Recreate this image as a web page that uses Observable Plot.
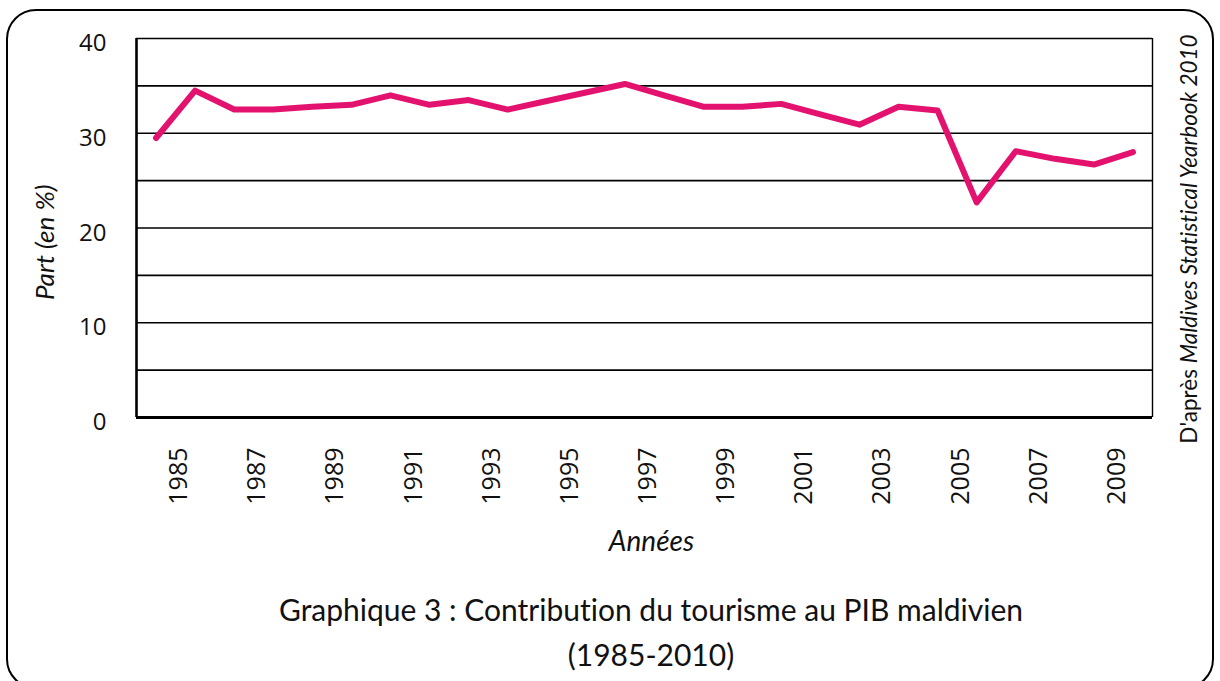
<!DOCTYPE html>
<html>
<head>
<meta charset="utf-8">
<script src="https://cdn.jsdelivr.net/npm/d3@7"></script>
<script src="https://cdn.jsdelivr.net/npm/@observablehq/plot@0.6"></script>
<style>
  html, body { margin: 0; padding: 0; background: #fff; }
  #wrap { position: relative; width: 1220px; height: 681px; overflow: hidden; background: #fff; }
  #border { position: absolute; left: 6px; top: 9px; width: 1208px; height: 680px;
            border: 2.5px solid #000; border-radius: 30px; box-sizing: border-box; }
  #chart { position: absolute; left: 0; top: 0; }
  #source { position: absolute; left: 1188px; top: 239px; transform: translate(-50%, -50%) rotate(-90deg);
            white-space: nowrap; font-family: Lato, "Open Sans", sans-serif; font-size: 22.5px; color: #111;
            font-variant-ligatures: none; }
  #title { position: absolute; left: 0; width: 1302px; top: 587px; text-align: center;
           font-family: Lato, "Open Sans", sans-serif; font-size: 30px; line-height: 45px; color: #111;
           font-variant-ligatures: none; }
</style>
</head>
<body>
<div id="wrap">
  <div id="border"></div>
  <div id="chart"></div>
  <div id="source">D'après <i>Maldives Statistical Yearbook 2010</i></div>
  <div id="title">Graphique 3 : Contribution du tourisme au PIB maldivien<br>(1985-2010)</div>
</div>
<script>
const years = [1985, 1986, 1987, 1988, 1989, 1990, 1991, 1992, 1993, 1994, 1995, 1996, 1997,
               1998, 1999, 2000, 2001, 2002, 2003, 2004, 2005, 2006, 2007, 2008, 2009, 2010];
const shares = [29.5, 34.5, 32.5, 32.5, 32.8, 33.0, 34.0, 33.0, 33.5, 32.5, 33.4, 34.3, 35.2,
                34.0, 32.8, 32.8, 33.1, 32.0, 30.9, 32.8, 32.4, 22.7, 28.1, 27.3, 26.7, 28.0];
const xTickYears = [1985, 1987, 1989, 1991, 1993, 1995, 1997, 1999, 2001, 2003, 2005, 2007, 2009];
const yTicks = [0, 10, 20, 30, 40];
const gridValues = [5, 10, 15, 20, 25, 30, 35, 40];
const yLabel = "Part (en %)";
const xLabel = "Années";

const data = years.map((year, i) => ({year, value: shares[i]}));

const tickFont = "'Open Sans', 'DejaVu Sans', sans-serif";
const labelFont = "Lato, 'Open Sans', sans-serif";

const chart = Plot.plot({
  width: 1220,
  height: 570,
  marginLeft: 136,
  marginRight: 68,
  marginTop: 38,
  marginBottom: 153,
  x: {type: "linear", domain: [years[0] - 0.5, years[years.length - 1] + 0.5], axis: null},
  y: {domain: [0, 40], axis: null},
  style: {background: "transparent", color: "#111"},
  marks: [
    Plot.ruleY(gridValues, {stroke: "#000", strokeWidth: 1.6}),
    Plot.ruleX([years[years.length - 1] + 0.5], {stroke: "#000", strokeWidth: 1.4}),
    Plot.ruleX([years[0] - 0.5], {stroke: "#000", strokeWidth: 2.6}),
    Plot.ruleY([0], {stroke: "#000", strokeWidth: 2.8}),
    Plot.line(data, {x: "year", y: "value", stroke: "#e3126f", strokeWidth: 6,
                     strokeLinejoin: "round", strokeLinecap: "round"}),
    Plot.text(yTicks, {y: d => d, frameAnchor: "left", textAnchor: "end", dx: -30, dy: 5,
                       text: d => String(d), fontSize: 24, fontFamily: tickFont, fill: "#111"}),
    Plot.text(xTickYears, {x: d => d, frameAnchor: "bottom", rotate: -90, textAnchor: "end",
                           dx: 31, dy: 30, text: d => String(d), fontSize: 25,
                           fontFamily: tickFont, fill: "#111"}),
    Plot.text([yLabel], {frameAnchor: "left", rotate: -90, textAnchor: "start", dx: -91, dy: 72,
                         text: d => d, fontSize: 26, fontStyle: "italic", fontFamily: labelFont,
                         fill: "#111"}),
    Plot.text([xLabel], {frameAnchor: "bottom", dx: 7, dy: 133, text: d => d,
                         fontSize: 28, fontStyle: "italic", fontFamily: labelFont, fill: "#111"})
  ]
});
document.getElementById("chart").appendChild(chart);
</script>
</body>
</html>
